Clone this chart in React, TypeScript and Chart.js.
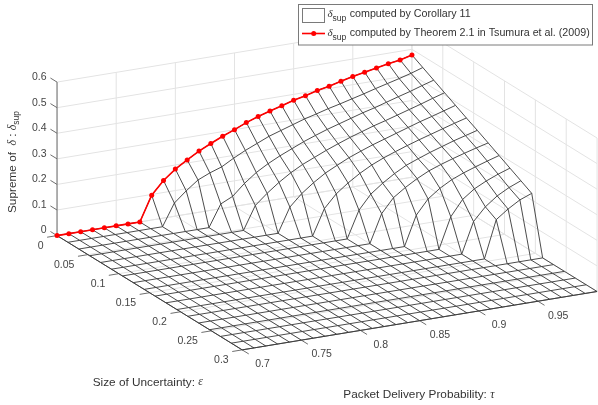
import React, { useEffect, useRef } from "react";
import { Chart, registerables } from "chart.js";

Chart.register(...registerables);

const tauValues = [0.7,0.71,0.72,0.73,0.74,0.75,0.76,0.77,0.78,0.79,0.8,0.81,0.82,0.83,0.84,0.85,0.86,0.87,0.88,0.89,0.9,0.91,0.92,0.93,0.94,0.95,0.96,0.97,0.98,0.99,1.0];
const epsValues = [0,0.0176,0.0353,0.0529,0.0706,0.0882,0.1059,0.1235,0.1412,0.1588,0.1765,0.1941,0.2118,0.2294,0.2471,0.2647,0.2824,0.3];
const tauTicks = [0.7,0.75,0.8,0.85,0.9,0.95];
const tauGrid = [0.7,0.75,0.8,0.85,0.9,0.95,1.0];
const epsTicks = [0,0.05,0.1,0.15,0.2,0.25,0.3];
const zTicks = [0,0.1,0.2,0.3,0.4,0.5,0.6];

// nonzero part of the surface per tau column, first entry = eps 0, remaining rows are 0
const surfaceColumns: number[][] = [
  [0],[0],[0],[0],[0],[0],[0],[0],
  [0.097],
  [0.147,0.085],
  [0.184,0.125],
  [0.212,0.16],
  [0.239,0.18,0.085],
  [0.261,0.196,0.107],
  [0.282,0.222,0.15,0.09],
  [0.3,0.245,0.185,0.13],
  [0.32,0.265,0.212,0.165,0.095],
  [0.336,0.285,0.235,0.195,0.14],
  [0.35,0.3,0.255,0.22,0.175,0.1],
  [0.363,0.315,0.275,0.24,0.205,0.15],
  [0.377,0.33,0.292,0.26,0.228,0.185,0.105],
  [0.387,0.342,0.308,0.278,0.25,0.215,0.16,0.11],
  [0.4,0.355,0.322,0.295,0.268,0.24,0.195,0.165],
  [0.409,0.366,0.336,0.31,0.285,0.26,0.225,0.197,0.115],
  [0.421,0.378,0.35,0.325,0.3,0.277,0.25,0.224,0.171],
  [0.432,0.39,0.362,0.338,0.315,0.293,0.268,0.247,0.205,0.12],
  [0.441,0.403,0.376,0.352,0.33,0.308,0.285,0.264,0.231,0.18,0.12],
  [0.45,0.415,0.39,0.366,0.345,0.322,0.3,0.279,0.25,0.214,0.17,0.146],
  [0.459,0.427,0.403,0.38,0.358,0.336,0.315,0.293,0.266,0.237,0.205,0.18],
  [0.466,0.44,0.418,0.395,0.372,0.35,0.328,0.306,0.281,0.256,0.23,0.208],
  [0.478,0.455,0.432,0.409,0.386,0.363,0.341,0.318,0.295,0.272,0.249,0.226],
];

const project = (tau: number, eps: number, z: number) => ({
  x: 55 + (tau - 0.7) * 1193 + eps * 622.3,
  y: 236 - (tau - 0.7) * 197 + eps * 385.7 - 259 * z,
});
const zAt = (c: number, r: number) => surfaceColumns[c][r] ?? 0;

const GRID = "#e3e3e3";
const AXIS = "#6e6e6e";
const MESH = "#383838";
const TEXT = "#454545";
const SANS = '"Liberation Sans", Arial, sans-serif';
const SERIF = '"Liberation Serif", serif';

const line = (data: { x: number; y: number }[], color: string, width: number) => ({
  type: "scatter" as const, data, showLine: true, borderColor: color, borderWidth: width,
  pointRadius: 0, pointHoverRadius: 0, tension: 0, clip: false as any,
});

function buildDatasets() {
  const sets: any[] = [];
  // red theorem curve on top
  sets.push({
    ...line(tauValues.map((t, c) => project(t, 0, zAt(c, 0))), "#ff0000", 1.6),
    pointRadius: 2.5, pointBackgroundColor: "#ff0000", pointBorderColor: "#ff0000", pointBorderWidth: 0,
  });
  // mesh
  epsValues.forEach((e, r) => sets.push(line(tauValues.map((t, c) => project(t, e, zAt(c, r))), MESH, 0.9)));
  tauValues.forEach((t, c) => sets.push(line(epsValues.map((e, r) => project(t, e, zAt(c, r))), MESH, 0.9)));
  // axes and ticks
  sets.push(line([project(0.7, 0, 0), project(0.7, 0, 0.6)], AXIS, 1));
  sets.push(line([project(0.7, 0, 0), project(0.7, 0.3, 0)], AXIS, 1));
  sets.push(line([project(0.7, 0.3, 0), project(1, 0.3, 0)], AXIS, 1));
  zTicks.forEach((z) => sets.push(line([project(0.7, 0, z), project(0.7, -0.0107, z)], AXIS, 1)));
  epsTicks.forEach((e) => sets.push(line([project(0.7, e, 0), project(0.6916, e, 0)], AXIS, 1)));
  tauTicks.forEach((t) => sets.push(line([project(t, 0.3, 0), project(t, 0.3107, 0)], AXIS, 1)));
  // grid
  zTicks.forEach((z) => {
    sets.push(line([project(0.7, 0, z), project(1, 0, z)], GRID, 1));
    sets.push(line([project(1, 0, z), project(1, 0.3, z)], GRID, 1));
  });
  tauGrid.forEach((t) => {
    sets.push(line([project(t, 0, 0), project(t, 0, 0.6)], GRID, 1));
    sets.push(line([project(t, 0, 0), project(t, 0.3, 0)], GRID, 1));
  });
  epsTicks.forEach((e) => {
    sets.push(line([project(1, e, 0), project(1, e, 0.6)], GRID, 1));
    sets.push(line([project(0.7, e, 0), project(1, e, 0)], GRID, 1));
  });
  return sets;
}

type Seg = { t: string; font: string; dy?: number };
function rich(ctx: CanvasRenderingContext2D, segs: Seg[], x: number, y: number) {
  let cx = x;
  for (const s of segs) {
    ctx.font = s.font;
    ctx.fillText(s.t, cx, y + (s.dy ?? 0));
    cx += ctx.measureText(s.t).width;
  }
  return cx;
}

const textPlugin = {
  id: "labels3d",
  afterDraw(chart: any) {
    const { ctx, scales } = chart;
    const at = (p: { x: number; y: number }) => ({ x: scales.x.getPixelForValue(p.x), y: scales.y.getPixelForValue(p.y) });
    ctx.save();
    ctx.fillStyle = TEXT;
    ctx.textBaseline = "middle";
    ctx.font = `10.5px ${SANS}`;
    ctx.textAlign = "right";
    zTicks.forEach((z) => {
      const p = at(project(0.7, 0, z));
      ctx.fillText(String(z), p.x - 10.5, p.y - 5);
    });
    epsTicks.forEach((e) => {
      const p = at(project(0.7, e, 0));
      ctx.fillText(String(e), p.x - 13.5, p.y + 10.2);
    });
    ctx.textAlign = "center";
    tauTicks.forEach((t) => {
      const p = at(project(t, 0.3, 0));
      ctx.fillText(String(t), p.x + 20.3, p.y + 14.4);
    });
    ctx.textAlign = "left";
    ctx.fillStyle = "#333333";
    const main = `11.8px ${SANS}`;
    const greek = `italic 11.8px ${SERIF}`;
    rich(ctx, [{ t: "Size of Uncertainty: ", font: main }, { t: "\u03b5", font: greek }], 92.7, 382.3);
    rich(ctx, [{ t: "Packet Delivery Probability: ", font: main }, { t: "\u03c4", font: greek }], 343.3, 395);
    ctx.save();
    ctx.translate(13, 213);
    ctx.rotate(-Math.PI / 2);
    rich(ctx, [
      { t: "Supreme of  ", font: main },
      { t: "\u03b4", font: greek },
      { t: " : ", font: main },
      { t: "\u03b4", font: greek },
      { t: "sup", font: `8.5px ${SANS}`, dy: 3.5 },
    ], 0, 0);
    ctx.restore();

    // legend
    ctx.fillStyle = "#ffffff";
    ctx.fillRect(298.5, 4.5, 294, 40.5);
    ctx.strokeStyle = "#7a7a7a";
    ctx.lineWidth = 1;
    ctx.strokeRect(298.5, 4.5, 294, 40.5);
    ctx.strokeRect(302.5, 8.5, 22, 14);
    ctx.strokeStyle = "#ff0000";
    ctx.lineWidth = 1.6;
    ctx.beginPath();
    ctx.moveTo(302, 33.5);
    ctx.lineTo(325, 33.5);
    ctx.stroke();
    ctx.fillStyle = "#ff0000";
    ctx.beginPath();
    ctx.arc(313.7, 33.5, 2.5, 0, Math.PI * 2);
    ctx.fill();
    ctx.fillStyle = "#333333";
    const legendFont = `10.7px ${SANS}`;
    const lg = `italic 11px ${SERIF}`;
    const sub = `8.5px ${SANS}`;
    rich(ctx, [{ t: "\u03b4", font: lg }, { t: "sup", font: sub, dy: 4 }], 327.5, 14.5);
    rich(ctx, [{ t: "computed by Corollary 11", font: legendFont }], 349.7, 14.5);
    rich(ctx, [{ t: "\u03b4", font: lg }, { t: "sup", font: sub, dy: 4 }], 327.5, 33.5);
    rich(ctx, [{ t: "computed by Theorem 2.1 in Tsumura et al. (2009)", font: legendFont }], 349.7, 33.5);
    ctx.restore();
  },
};

export default function App() {
  const ref = useRef<HTMLCanvasElement>(null);
  useEffect(() => {
    const chart = new Chart(ref.current!, {
      type: "scatter",
      data: { datasets: buildDatasets() },
      options: {
        animation: false,
        responsive: false,
        layout: { padding: 0 },
        plugins: { legend: { display: false }, tooltip: { enabled: false } },
        scales: {
          x: { type: "linear", min: 0, max: 598, display: false },
          y: { type: "linear", min: 0, max: 405, reverse: true, display: false },
        },
      },
      plugins: [textPlugin],
    });
    return () => chart.destroy();
  }, []);
  return (
    <div style={{ position: "fixed", left: 0, top: 0, width: 598, height: 405, background: "#fff", overflow: "hidden" }}>
      <canvas ref={ref} width={598} height={405} style={{ display: "block", filter: "blur(0.35px)" }} />
    </div>
  );
}
